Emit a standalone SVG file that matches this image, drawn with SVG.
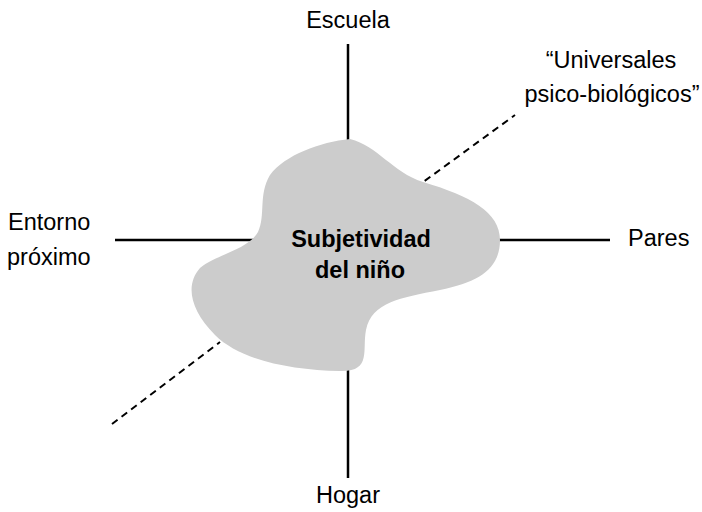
<svg xmlns="http://www.w3.org/2000/svg" width="702" height="512" viewBox="0 0 702 512">
<style>
.t{font-family:"Liberation Sans",Arial,sans-serif;font-size:23.5px;fill:#000}
.b{font-weight:bold}
.l{stroke:#000;stroke-width:2.5;fill:none}
.d{stroke-dasharray:7,5;stroke-width:2}
</style>
<rect width="702" height="512" fill="#fff"/>
<g id="connectors">
<line class="l" x1="348" y1="44" x2="348" y2="145"/>
<line class="l" x1="348" y1="365" x2="348" y2="478"/>
<line class="l" x1="115" y1="240" x2="255" y2="240"/>
<line class="l" x1="495" y1="240" x2="610" y2="240"/>
<line class="l d" x1="112" y1="424" x2="220" y2="342"/>
<line class="l d" x1="415" y1="188" x2="515" y2="115"/>
</g>
<g id="center">
<path d="M350,139 C378,146 392,172 423,182 C470,196 500,212 500,240 C500,268 480,282 440,290 C400,298 372,302 366,330 C362,350 372,372 340,371 C290,370 240,360 215,335 C190,310 185,285 200,268 C215,255 248,250 258,232 C266,215 258,195 270,175 C285,155 320,142 350,139 Z" fill="#cccccc"/>
<text class="t b" x="361" y="247" text-anchor="middle">Subjetividad</text>
<text class="t b" x="360" y="278" text-anchor="middle">del niño</text>
</g>
<g id="escuela"><text class="t" x="348" y="28" text-anchor="middle">Escuela</text></g>
<g id="hogar"><text class="t" x="348" y="503" text-anchor="middle">Hogar</text></g>
<g id="entorno"><text class="t" x="8" y="230">Entorno</text><text class="t" x="7" y="265">próximo</text></g>
<g id="pares"><text class="t" x="628" y="246">Pares</text></g>
<g id="universales"><text class="t" x="611" y="68" text-anchor="middle">“Universales</text><text class="t" x="612" y="102" text-anchor="middle">psico-biológicos”</text></g>
</svg>
